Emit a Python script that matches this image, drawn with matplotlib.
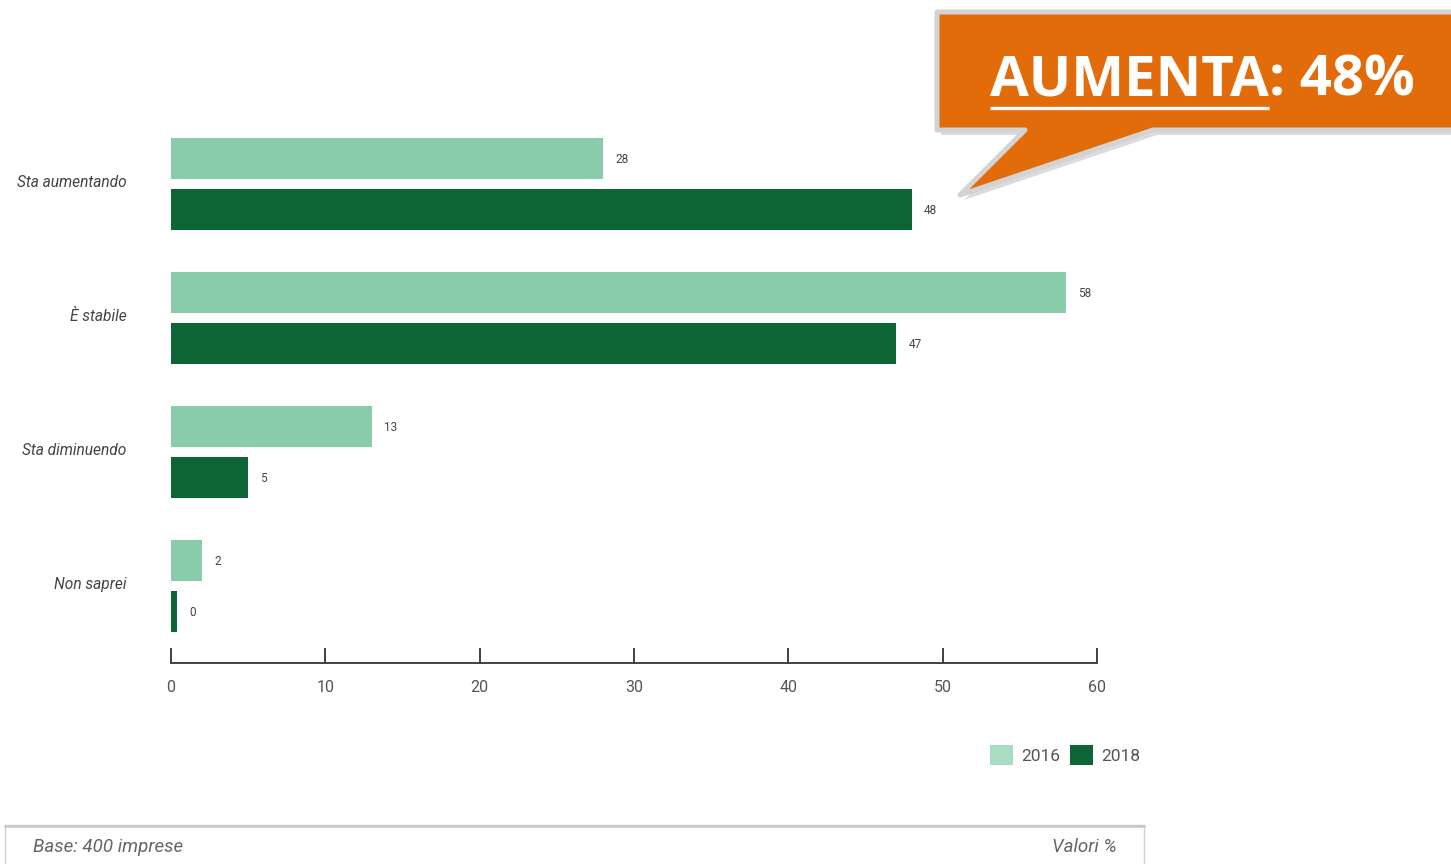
#!/usr/bin/env python3
# Andamento imprese 2016 vs 2018, barre orizzontali con fumetto

import matplotlib.pyplot as plt
from matplotlib.patches import Polygon, Rectangle, Patch
from matplotlib.transforms import ScaledTranslation
import numpy as np

categories = ["Sta aumentando", "È stabile", "Sta diminuendo", "Non saprei"]
years = ["2016", "2018"]
values_2016 = [28, 58, 13, 2]
values_2018 = [48, 47, 5, 0]

x_ticks = [0, 10, 20, 30, 40, 50, 60]
footer_left = "Base: 400 imprese"
footer_right = "Valori %"

LIGHT = "#88CCAA"
DARK = "#0D6535"
LEGEND_LIGHT = "#A8DCC3"
ORANGE = "#E36C0A"

W, H = 1451, 864
plt.rcParams["font.family"] = ["Roboto", "DejaVu Sans"]


def px(x0, y0, x1, y1):
    # figure rectangle from pixel corners (top-left origin)
    return [x0 / W, 1 - y1 / H, (x1 - x0) / W, (y1 - y0) / H]


def main():
    fig = plt.figure(figsize=(W / 100, H / 100), dpi=100)

    # main bar chart
    top_px, bottom_px, step = 103.6, 663, 134
    ax = fig.add_axes(px(171, top_px, 1097, bottom_px))
    y = np.arange(len(categories))
    h = 41 / step
    off = 25.5 / step
    ax.barh(y - off, values_2016, height=h, color=LIGHT, label=years[0])
    ax.barh(y + off, values_2018, height=h, color=DARK, label=years[1])
    # zero-valued bar still gets a thin sliver
    for yi, v in zip(y + off, values_2018):
        if v == 0:
            ax.barh(yi, 0.4, height=h, color=DARK)
    for yi, v in zip(y - off, values_2016):
        ax.text(v + 0.8, yi + 0.008, str(v), va="center", ha="left", fontsize=8.5, color="#444444")
    for yi, v in zip(y + off, values_2018):
        ax.text(max(v, 0.4) + 0.8, yi + 0.008, str(v), va="center", ha="left", fontsize=8.5,
                color="#444444")

    ax.set_xlim(0, 60)
    ax.set_ylim((bottom_px - 184) / step, (top_px - 184) / step)
    ax.set_xticks(x_ticks)
    ax.set_xticklabels([str(t) for t in x_ticks], fontsize=11.5, color="#555555")
    ax.tick_params(axis="x", direction="in", length=11, width=1.3, color="#333333", pad=12.5)
    ax.set_yticks(y)
    ax.set_yticklabels(categories, fontsize=11.2, style="italic", color="#444444")
    ax.tick_params(axis="y", length=0, pad=32)
    lift = ScaledTranslation(0, 3 / 100, fig.dpi_scale_trans)
    for lab in ax.get_yticklabels():
        lab.set_transform(lab.get_transform() + lift)
    for s in ["top", "right", "left"]:
        ax.spines[s].set_visible(False)
    ax.spines["bottom"].set_color("#333333")
    ax.spines["bottom"].set_linewidth(1.3)

    handles = [Patch(facecolor=LEGEND_LIGHT), Patch(facecolor=DARK)]
    fig.legend(handles, years, loc="center left", bbox_to_anchor=(990 / W, 1 - 755 / H),
               ncol=2, frameon=False, fontsize=12.5, labelcolor="#555555",
               handlelength=1.35, handleheight=1.35, handletextpad=0.45, columnspacing=0.55,
               borderaxespad=0, borderpad=0)

    # overlay in pixel coordinates for footer and callout
    ov = fig.add_axes([0, 0, 1, 1], zorder=5)
    ov.set_xlim(0, W)
    ov.set_ylim(H, 0)
    ov.axis("off")
    ov.patch.set_alpha(0)

    ov.add_patch(Rectangle((5, 825), 1139, 60, facecolor="white", edgecolor="#D0D0D0", lw=1))
    ov.plot([5, 1144], [825.5, 825.5], color="#C8C8C8", lw=1.8)
    ov.text(33, 847, footer_left, fontsize=13.5, style="italic", color="#666666", va="center",
            ha="left")
    ov.text(1117, 847, footer_right, fontsize=13.5, style="italic", color="#666666", va="center",
            ha="right")

    callout = [(937, 12), (1460, 12), (1460, 130), (1153, 130), (960, 195), (1025, 130), (937, 130)]
    shadow = [(x + 4, y + 5) for x, y in callout]
    ov.add_patch(Polygon(shadow, closed=True, facecolor="#BBBBBB", edgecolor="none", alpha=0.5))
    ov.add_patch(Polygon(callout, closed=True, facecolor=ORANGE, edgecolor="#D3D3D3",
                         lw=3.6, joinstyle="round"))

    head = ov.text(990, 95, "AUMENTA", fontsize=40.5, fontweight="bold", color="white",
                   family=["Open Sans", "DejaVu Sans"], va="baseline", ha="left")
    fig.canvas.draw()
    bb = head.get_window_extent().transformed(ov.transData.inverted())
    x0, x1 = min(bb.x0, bb.x1), max(bb.x0, bb.x1)
    ov.plot([x0, x1], [108, 108], color="white", lw=2.4, solid_capstyle="butt")
    ov.text(x1, 95, f": {values_2018[0]}%", fontsize=40.5, fontweight="bold", color="white",
            family=["Open Sans", "DejaVu Sans"], va="baseline", ha="left")

    fig.savefig("out.png", dpi=100, facecolor="white")


if __name__ == "__main__":
    main()
